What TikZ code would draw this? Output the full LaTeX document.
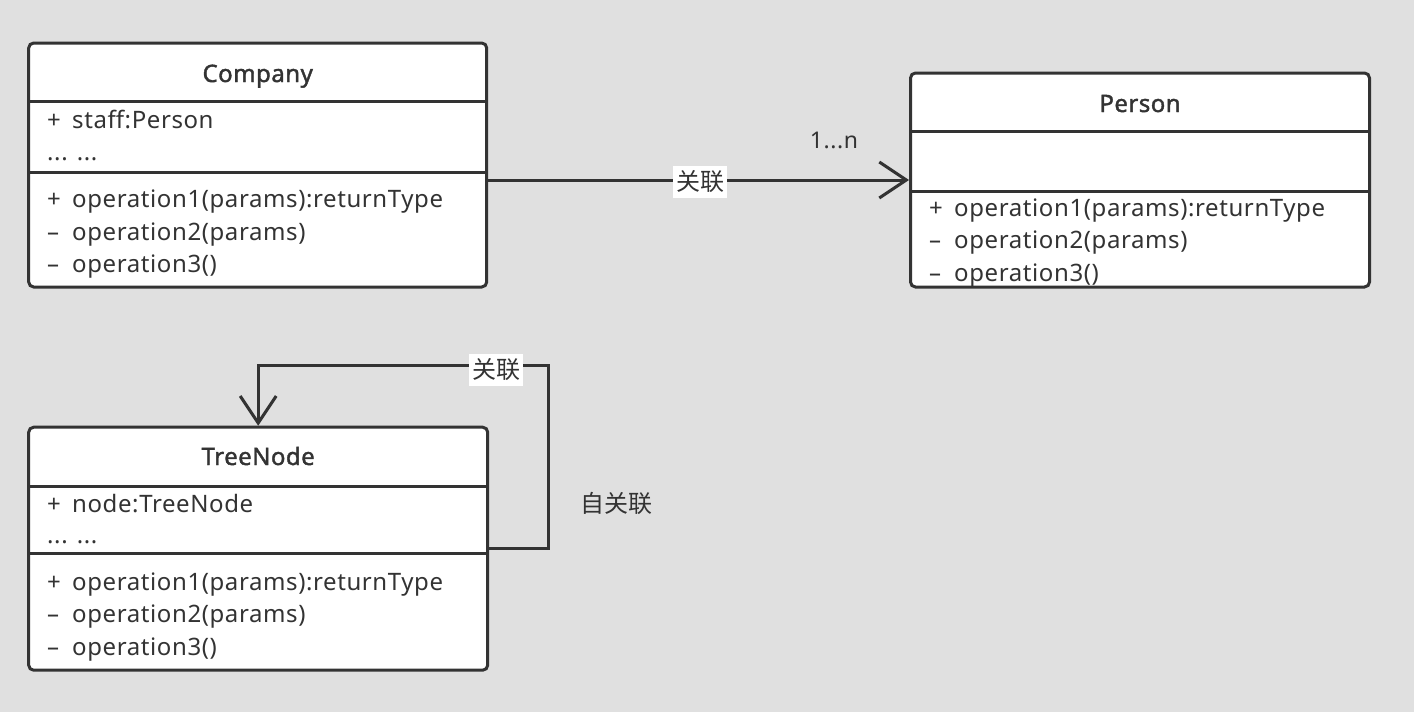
\documentclass[tikz,border=0pt]{standalone}
\usepackage{fontspec}
\setmainfont{Noto Sans}[LetterSpace=2.5]
\newfontfamily\titlefont{Noto Sans}[FakeBold=1.6, LetterSpace=2]
\newfontfamily\cjk{Noto Sans CJK SC}
\usetikzlibrary{arrows.meta}
\definecolor{bg}{RGB}{224,224,224}
\definecolor{ink}{RGB}{51,51,51}
\newcommand\umlvis[1]{\makebox[25pt][l]{#1}}
\tikzset{
  classbox/.style={draw=ink, fill=white, line width=3pt, rounded corners=5pt, inner sep=0pt},
  divider/.style={draw=ink, line width=3pt},
  member/.style={anchor=base west, inner sep=0pt, text=ink, font=\fontsize{24}{28}\selectfont},
  ctitle/.style={anchor=base, inner sep=0pt, text=ink, font=\titlefont\fontsize{24}{28}\selectfont},
  assoc/.style={draw=ink, line width=3pt, -{Straight Barb[length=27pt,width=36pt]}},
  lbl/.style={fill=white, text=ink, inner xsep=3pt, inner ysep=5pt, font=\cjk\fontsize{24}{28}\selectfont},
  note/.style={text=ink, inner sep=0pt, font=\fontsize{23}{27}\selectfont},
}
\begin{document}
\begin{tikzpicture}[x=1pt, y=-1pt]
\fill[bg] (0,0) rectangle (1414,712);
\useasboundingbox (0,0) rectangle (1414,712);

% Company
\node[classbox, minimum width=458pt, minimum height=244pt] (company) at (257.7,165) {};
\draw[divider] (28.7,101.7) -- (486.7,101.7);
\draw[divider] (28.7,172.3) -- (486.7,172.3);
\node[ctitle] (ct) at (257.7,82) {Company};
\node[member] (ca1) at (47,128) {\umlvis{+}staff:Person};
\node[member] (ca2) at (47,160) {... ...};
\node[member] (co1) at (47,207) {\umlvis{+}operation1(params):returnType};
\node[member] (co2) at (47,240) {\umlvis{–}operation2(params)};
\node[member] (co3) at (47,272) {\umlvis{–}operation3()};

% Person
\node[classbox, minimum width=459pt, minimum height=214pt] (person) at (1140,180) {};
\draw[divider] (910.5,131.7) -- (1369.5,131.7);
\draw[divider] (910.5,191.7) -- (1369.5,191.7);
\node[ctitle] (pt) at (1140,112) {Person};
\node[member] (po1) at (929,216) {\umlvis{+}operation1(params):returnType};
\node[member] (po2) at (929,248) {\umlvis{–}operation2(params)};
\node[member] (po3) at (929,281) {\umlvis{–}operation3()};

% TreeNode
\node[classbox, minimum width=459pt, minimum height=243pt] (tree) at (258.2,548.7) {};
\draw[divider] (28.7,486) -- (487.7,486);
\draw[divider] (28.7,553) -- (487.7,553);
\node[ctitle] (tt) at (258.2,465) {TreeNode};
\node[member] (ta1) at (47,512) {\umlvis{+}node:TreeNode};
\node[member] (ta2) at (47,543) {... ...};
\node[member] (to1) at (47,590) {\umlvis{+}operation1(params):returnType};
\node[member] (to2) at (47,622) {\umlvis{–}operation2(params)};
\node[member] (to3) at (47,655) {\umlvis{–}operation3()};

% Company -> Person association
\draw[assoc] (company.east |- person.west) -- (person.west);
\node[lbl] (l1) at (700,182) {关联};
\node[note] (mult) at (834,140) {1...n};

% self association
\coordinate (loopc) at (548,365.5);
\draw[assoc] (tree.east) -| (loopc) -| (tree.north);
\node[lbl] (l2) at (496,370) {关联};
\node[note, font=\cjk\fontsize{24}{28}\selectfont] (self) at (616,503) {自关联};
\end{tikzpicture}
\end{document}
